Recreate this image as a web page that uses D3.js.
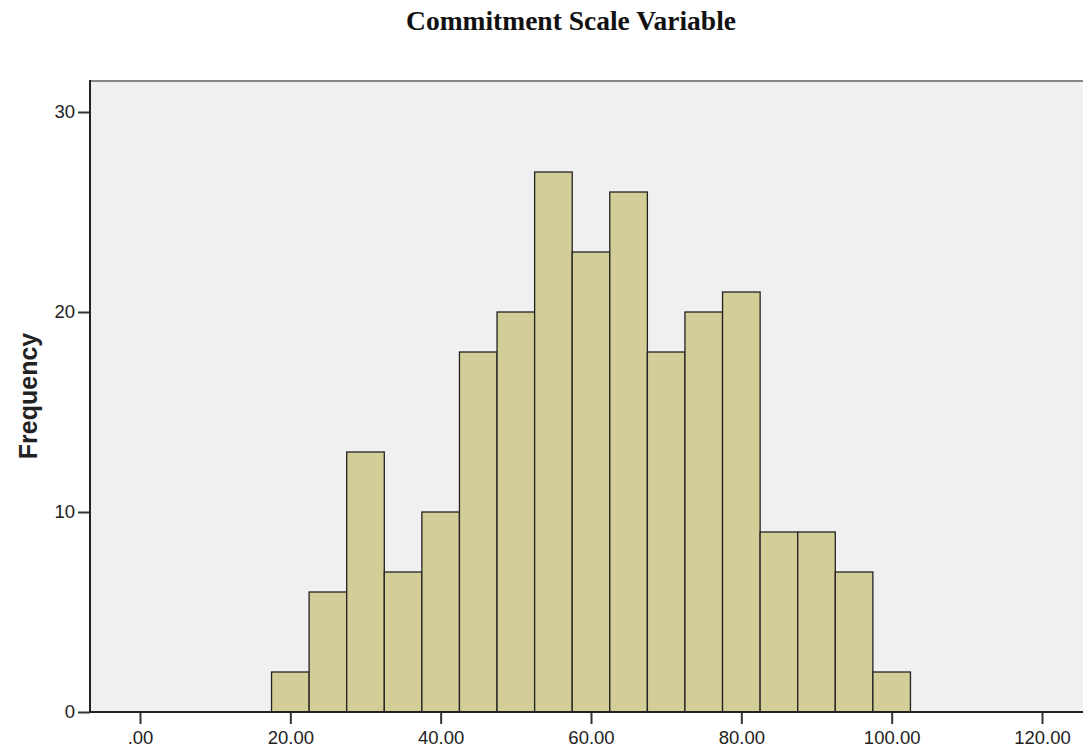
<!DOCTYPE html>
<html><head><meta charset="utf-8">
<script src="https://cdn.jsdelivr.net/npm/d3@7"></script>
<style>body{margin:0;background:#fff}svg{display:block}</style>
</head><body>
<svg id="c" width="1083" height="747"></svg>
<script>
const binCenters = [20,25,30,35,40,45,50,55,60,65,70,75,80,85,90,95,100];
const frequencies = [2,6,13,7,10,18,20,27,23,26,18,20,21,9,9,7,2];
const xTicks = [0,20,40,60,80,100,120];
const yTicks = [0,10,20,30];
const binWidth = 5;

(function(){
const svg = d3.select("#c");
const pL = 90, pT = 80, pR = 1090, pB = 712;
const x = d3.scaleLinear().domain([0,120]).range([140,1042]);
const y = d3.scaleLinear().domain([0,30]).range([712,112]);

svg.append("rect").attr("x",pL).attr("y",pT).attr("width",pR-pL).attr("height",pB-pT).attr("fill","#f0f0f0");
svg.append("line").attr("x1",pL).attr("x2",pR).attr("y1",pT+1).attr("y2",pT+1).attr("stroke","#888").attr("stroke-width",2);

svg.append("g").selectAll("rect").data(binCenters).join("rect")
  .attr("x",d=>x(d-binWidth/2)).attr("width",d=>x(d+binWidth/2)-x(d-binWidth/2))
  .attr("y",(d,i)=>y(frequencies[i])).attr("height",(d,i)=>y(0)-y(frequencies[i]))
  .attr("fill","#d3ce97").attr("stroke","#222").attr("stroke-width",1.3);

const fmt = d=> d===0 ? ".00" : d3.format(".2f")(d);
const xa = svg.append("g").attr("transform",`translate(0,${pB})`)
  .call(d3.axisBottom(x).tickValues(xTicks).tickFormat(fmt).tickSize(12).tickSizeOuter(0).tickPadding(7));
xa.select(".domain").remove();
xa.selectAll("text").attr("font-family","Liberation Sans, Arial, sans-serif").attr("font-size",18.5).attr("fill","#222");
xa.selectAll("line").attr("stroke","#333").attr("stroke-width",2);

const ya = svg.append("g").attr("transform",`translate(${pL},0)`)
  .call(d3.axisLeft(y).tickValues(yTicks).tickFormat(d3.format("d")).tickSize(12).tickSizeOuter(0).tickPadding(3));
ya.select(".domain").remove();
ya.selectAll("text").attr("font-family","Liberation Sans, Arial, sans-serif").attr("font-size",18.5).attr("fill","#222");
ya.selectAll("line").attr("stroke","#333").attr("stroke-width",2);

svg.append("line").attr("x1",pL).attr("x2",pL).attr("y1",pT).attr("y2",pB).attr("stroke","#222").attr("stroke-width",2);
svg.append("line").attr("x1",pL).attr("x2",pR).attr("y1",pB).attr("y2",pB).attr("stroke","#222").attr("stroke-width",2);

svg.append("text").attr("x",571).attr("y",30).attr("text-anchor","middle")
  .attr("font-family","Liberation Serif, Times New Roman, serif").attr("font-weight","bold").attr("font-size",27.5)
  .attr("fill","#111").text("Commitment Scale Variable");

svg.append("text").attr("transform","translate(37,396) rotate(-90)").attr("text-anchor","middle")
  .attr("font-family","Liberation Sans, Arial, sans-serif").attr("font-weight","bold").attr("font-size",25)
  .attr("fill","#222").text("Frequency");
})();
</script>
</body></html>
